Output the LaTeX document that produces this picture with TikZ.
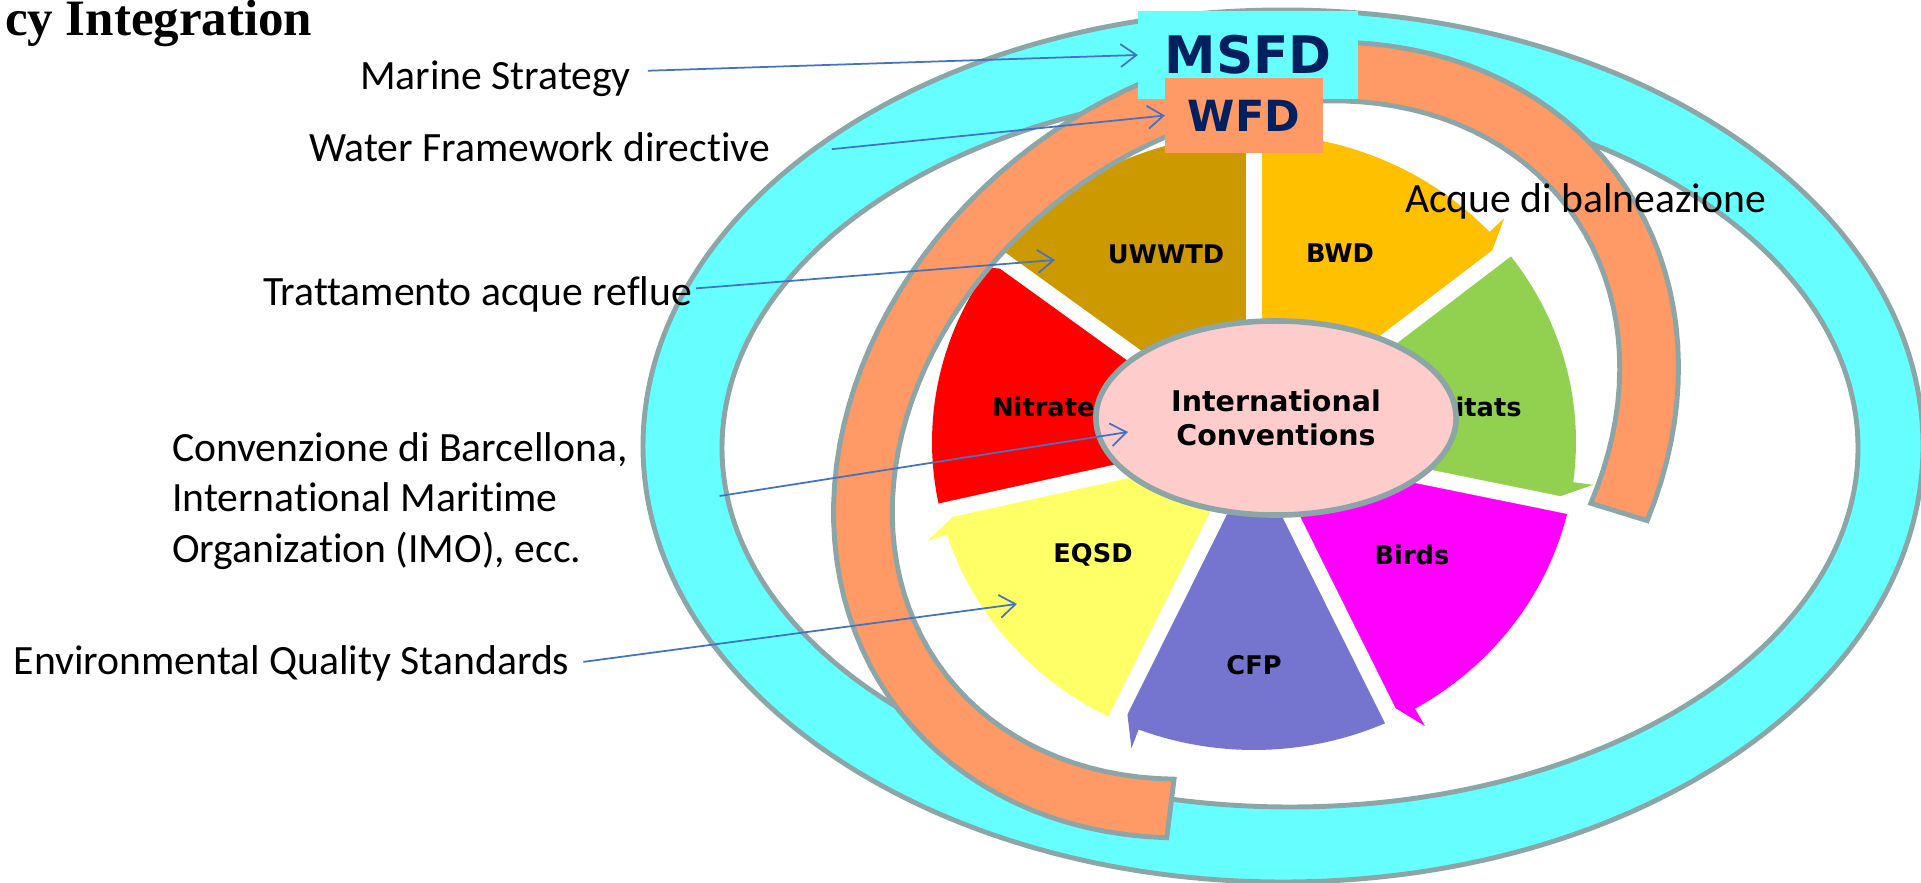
\documentclass[tikz,border=0pt]{standalone}
\usepackage{fontspec}
\setmainfont{Carlito}[Ligatures=CommonOff]
\newfontfamily\petalfont{DejaVu Sans}
\newfontfamily\titlefont{Liberation Serif}
\usepackage{xcolor}
\definecolor{ringcyan}{HTML}{66FFFF}
\definecolor{ringorange}{HTML}{FF9966}
\definecolor{ringgrey}{HTML}{8CA6A8}
\definecolor{navy}{HTML}{002060}
\definecolor{linkblue}{HTML}{4472C4}
\definecolor{cUWWTD}{HTML}{CC9900}
\definecolor{cBWD}{HTML}{FFC000}
\definecolor{cHab}{HTML}{92D050}
\definecolor{cBirds}{HTML}{FF00FF}
\definecolor{cCFP}{HTML}{7575CF}
\definecolor{cEQSD}{HTML}{FFFF66}
\definecolor{cNit}{HTML}{FF0000}
\definecolor{cIC}{HTML}{FFCCCC}
\usepackage{tikz}
\usetikzlibrary{positioning}
\usetikzlibrary{calc}
\usetikzlibrary{shapes.geometric}
\usetikzlibrary{arrows.meta}

\begin{document}
\begin{tikzpicture}[x=0.01cm,y=-0.01cm,every node/.style={inner sep=0,outer sep=0},
    note/.style={anchor=base west,font=\fontsize{11.85}{14.37}\selectfont},
    petal/.style={font=\petalfont\bfseries\fontsize{7.3}{8.8}\selectfont},
    link/.style={draw=linkblue,line width=0.5pt,-{Straight Barb[length=4.5pt,width=6.5pt]}},
    rim/.style={draw=ringgrey,line width=1.4pt}]
	\useasboundingbox (0,0) rectangle (1921,883);
	\fill[white] (0,0) rectangle (1921,883);
	% cyan ring
	\fill[ringcyan,even odd rule] (1283,446) ellipse [x radius=640,y radius=436] (1290,448) ellipse [x radius=568,y radius=359];
	\draw[rim] (1283,446) ellipse [x radius=640,y radius=436];
	\draw[rim] (1290,448) ellipse [x radius=568,y radius=359];
	% petals
	\begin{scope}[shift={(1254,442)}]
	\foreach \a/\b/\c in {-90/-38.5/cBWD,-38.5/12/cHab,12/64.5/cBirds,64.5/115.5/cCFP,115.5/167/cEQSD,167/217/cNit,217/270/cUWWTD}{
		\pgfmathsetmacro\e{\b-4.5}
		\fill[\c] (0,0) -- (\a:322 and 308) -- plot[domain=\a:\e,samples=30] ({322*cos(\x)},{308*sin(\x)}) -- (\e:342 and 328) -- (\b:298 and 286) -- cycle;
	}
	\foreach \g in {-90,-38.5,12,64.5,115.5,167,217}
		\draw[white,line width=0.16cm] (0,0) -- (\g:332 and 318);
	\end{scope}
	% orange ring
	\begin{scope}[shift={(1256,440)},rotate=35.9]
	\filldraw[rim,fill=ringorange] plot[domain=133:413,samples=100] ({448*cos(\x)},{369*sin(\x)}) -- plot[domain=413:133,samples=100] ({389*cos(\x)},{310*sin(\x)}) -- cycle;
	\end{scope}
	\node[petal] (lblUWWTD) at (1166,254) {UWWTD};
	\node[petal] (lblBWD) at (1340,253) {BWD};
	\node[petal] (lblHab) at (1460,407) {Habitats};
	\node[petal] (lblNit) at (1051,407) {Nitrates};
	\node[petal] (lblEQSD) at (1093,555) {EQSD};
	\node[petal] (lblBirds) at (1412,555) {Birds};
	\node[petal] (lblCFP) at (1254,665) {CFP};
	\node[ellipse,draw=ringgrey,line width=1.6pt,fill=cIC,minimum width=3.6cm,minimum height=1.94cm,align=center,font=\petalfont\bfseries\fontsize{8.1}{9.7}\selectfont] (ic) at (1276,418) {International\\Conventions};
	\node[fill=ringcyan,minimum width=2.2cm,minimum height=0.88cm,text=navy,font=\petalfont\bfseries\fontsize{14.7}{17}\selectfont] (msfd) at (1248,55) {MSFD};
	\node[fill=ringorange,minimum width=1.58cm,minimum height=0.75cm,text=navy,font=\petalfont\bfseries\fontsize{12.2}{14}\selectfont] (wfd) at (1244,115.5) {WFD};
	% labels
	\node[anchor=base west,font=\titlefont\bfseries\fontsize{14.5}{17}\selectfont] (title) at (5,36) {cy Integration};
	\node[note] (lblMarine) at (360,90) {Marine Strategy};
	\node[note] (lblWater) at (309,162) {Water Framework directive};
	\node[note] (lblTratt) at (263,306) {Trattamento acque reflue};
	\node[note,anchor=west,align=left] (lblConv) at (172,501) {Convenzione di Barcellona,\\International Maritime\\Organization (IMO), ecc.};
	\node[note] (lblEnv) at (14,675) {Environmental Quality Standards};
	\node[note] (lblAcque) at (1405,213) {Acque di balneazione};
	\coordinate (tipUWWTD) at (1055,260);
	\coordinate (tipIC) at (1128,432);
	\coordinate (tipEQSD) at (1017,604);
	\draw[link] ($(lblMarine.east)+(17,-8.5)$) -- (msfd.west);
	\draw[link] ($(lblWater.east)+(62,1.5)$) -- (wfd.west);
	\draw[link] ($(lblTratt.east)+(4,-6.5)$) -- (tipUWWTD);
	\draw[link] ($(lblConv.east)+(92,-5)$) -- (tipIC);
	\draw[link] ($(lblEnv.east)+(14,-2)$) -- (tipEQSD);
\end{tikzpicture}
\end{document}
